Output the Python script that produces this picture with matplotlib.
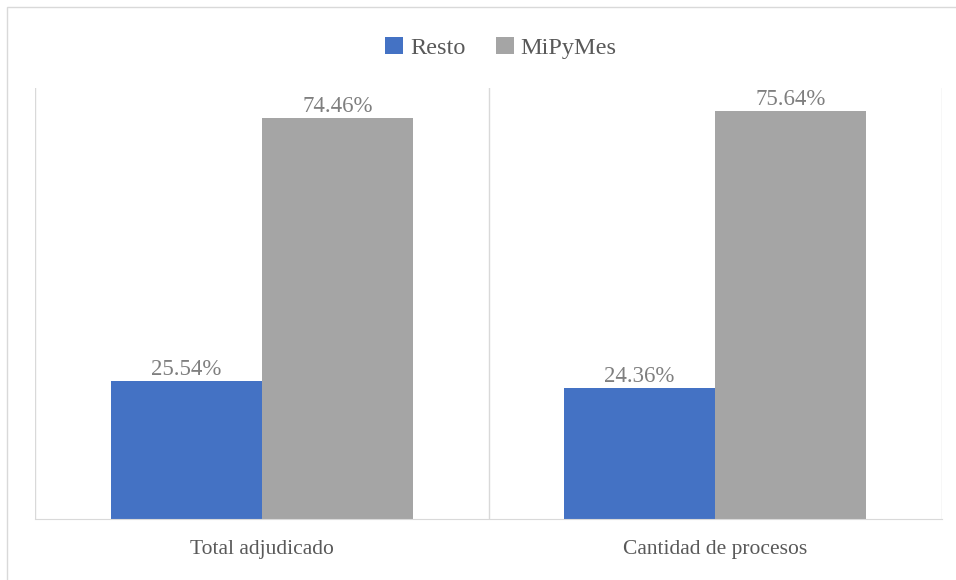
import matplotlib.pyplot as plt
from matplotlib.patches import Rectangle
import numpy as np

categories = ['Total adjudicado', 'Cantidad de procesos']
resto = [25.54, 24.36]
mipymes = [74.46, 75.64]
seriesNames = ['Resto', 'MiPyMes']

plt.rcParams['font.family'] = ['Liberation Serif', 'DejaVu Serif']

fig = plt.figure(figsize=(9.56, 5.8), dpi=100)
ax = fig.add_axes([35 / 956, 61 / 580, 907 / 956, 431 / 580])

# outer frame of the chart area
fig.patches.append(Rectangle((7 / 956, -0.05), 1.1, 573 / 580 + 0.05, transform=fig.transFigure,
                             fill=False, edgecolor='#d9d9d9', linewidth=1.0))

x = np.arange(len(categories))
w = 1 / 3
b1 = ax.bar(x - w / 2, resto, w, color='#4472C4', label=seriesNames[0])
b2 = ax.bar(x + w / 2, mipymes, w, color='#A5A5A5', label=seriesNames[1])

for bars in [b1, b2]:
    for r in bars:
        ax.text(r.get_x() + r.get_width() / 2, r.get_height() + 0.2, f'{r.get_height():.2f}%',
                ha='center', va='bottom', fontsize=16.5, color='#7f7f7f')

ax.set_xlim(-0.5, 1.5)
ax.set_ylim(0, 80)
for xv in [-0.5, 0.5, 1.5]:
    ax.axvline(xv, color='#d9d9d9', linewidth=1.0, zorder=0)

for s in ['top', 'right', 'left']:
    ax.spines[s].set_visible(False)
ax.spines['bottom'].set_color('#d9d9d9')
ax.set_yticks([])
ax.set_xticks(x)
ax.set_xticklabels(categories, fontsize=15.5, color='#595959')
ax.tick_params(axis='x', length=0, pad=15)

fig.legend(loc='center', bbox_to_anchor=(501 / 956, 1 - 48 / 580), ncol=2, frameon=False,
           fontsize=17.5, labelcolor='#595959', handlelength=0.74, handleheight=0.74,
           handletextpad=0.29, columnspacing=1.23)

fig.savefig('out.png', dpi=100)
